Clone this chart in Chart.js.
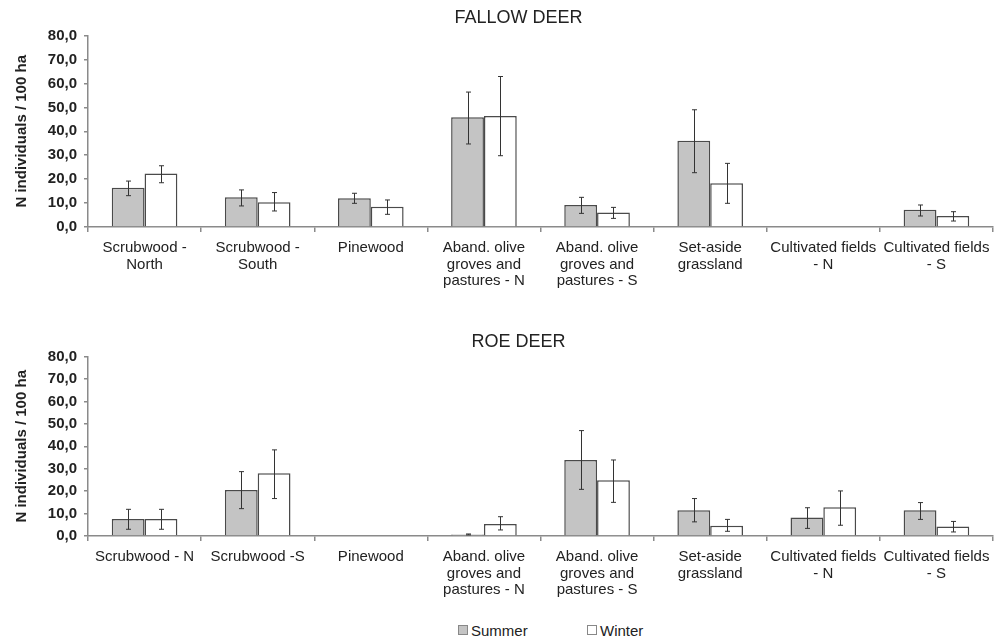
<!DOCTYPE html>
<html>
<head>
<meta charset="utf-8">
<script src="https://cdn.jsdelivr.net/npm/chart.js@4"></script>
<style>
  body { margin: 0; background: #fff; width: 1003px; height: 642px; overflow: hidden; position: relative; }
  canvas { position: absolute; left: 0; }
  #legend { position: absolute; top: 622px; left: 0; width: 1003px; font: 15px "Liberation Sans", Arial, sans-serif; color: #222; }
  #legend span.item { position: absolute; white-space: nowrap; }
  #legend i { display: inline-block; width: 8px; height: 8px; border: 1px solid #888; margin-right: 3px; vertical-align: 1px; }
</style>
</head>
<body>
<canvas id="fallow" width="1003" height="300" style="top:0"></canvas>
<canvas id="roe" width="1003" height="320" style="top:300px"></canvas>
<div id="legend">
  <span class="item" style="left:458px"><i style="background:#c4c4c4"></i>Summer</span>
  <span class="item" style="left:587px"><i style="background:#fff"></i>Winter</span>
</div>
<script>
// categorias
const fallowLabels = [
    ["Scrubwood -", "North"], ["Scrubwood -", "South"], ["Pinewood"],
    ["Aband. olive", "groves and", "pastures - N"], ["Aband. olive", "groves and", "pastures - S"],
    ["Set-aside", "grassland"], ["Cultivated fields", "- N"], ["Cultivated fields", "- S"]
];
const roeLabels = [
    ["Scrubwood - N"], ["Scrubwood -S"], ["Pinewood"],
    ["Aband. olive", "groves and", "pastures - N"], ["Aband. olive", "groves and", "pastures - S"],
    ["Set-aside", "grassland"], ["Cultivated fields", "- N"], ["Cultivated fields", "- S"]
];
const seriesNames = ["Summer", "Winter"];
const yTicks = [0, 10, 20, 30, 40, 50, 60, 70, 80];

// FALLOW DEER
const fallowSummer   = [16.4, 12.4, 12.0, 45.9, 9.2, 36.0, null, 7.2];
const fallowSummerLo = [13.1, 8.8, 9.9, 34.7, 5.7, 22.7, null, 4.6];
const fallowSummerHi = [19.2, 15.5, 14.1, 56.4, 12.4, 49.0, null, 9.2];
const fallowWinter   = [22.4, 10.3, 8.5, 46.4, 6.1, 18.3, null, 4.6];
const fallowWinterLo = [18.5, 6.7, 5.3, 29.8, 3.6, 9.9, null, 2.5];
const fallowWinterHi = [25.6, 14.4, 11.3, 62.9, 8.2, 26.6, null, 6.4];

// ROE DEER
const roeSummer   = [7.6, 20.5, null, 0.7, 33.9, 11.5, 8.2, 11.5];
const roeSummerLo = [3.0, 12.2, null, 0.5, 20.8, 6.3, 3.4, 7.4];
const roeSummerHi = [11.9, 28.7, null, 0.9, 47.0, 16.7, 12.6, 14.9];
const roeWinter   = [7.6, 28.0, null, 5.4, 24.9, 4.6, 12.8, 4.2];
const roeWinterLo = [3.0, 16.7, null, 2.7, 15.0, 2.1, 4.8, 1.8];
const roeWinterHi = [11.9, 38.4, null, 8.6, 33.9, 7.4, 20.1, 6.5];

const FONT = '"Liberation Sans", Arial, sans-serif';
const AXIS = '#8a8a8a';

// barras de erro desenhadas sobre cada barra
const errorBars = {
    id: 'errorBars',
    afterDatasetsDraw(chart) {
        const ctx = chart.ctx;
        const y = chart.scales.y;
        ctx.save();
        ctx.strokeStyle = '#333';
        ctx.lineWidth = 1;
        chart.data.datasets.forEach((ds, i) => {
            const meta = chart.getDatasetMeta(i);
            meta.data.forEach((bar, j) => {
                const lo = ds.errLo[j], hi = ds.errHi[j];
                if (lo == null || hi == null) return;
                const x = Math.round(bar.x) + 0.5;
                const yl = y.getPixelForValue(lo), yh = y.getPixelForValue(hi);
                ctx.beginPath();
                ctx.moveTo(x, yl); ctx.lineTo(x, yh);
                ctx.moveTo(x - 2.5, yl); ctx.lineTo(x + 2.5, yl);
                ctx.moveTo(x - 2.5, yh); ctx.lineTo(x + 2.5, yh);
                ctx.stroke();
            });
        });
        ctx.restore();
    }
};

function makeChart(id, title, labels, summer, sLo, sHi, winter, wLo, wHi, titlePad, xHeight) {
    const ds = (name, data, lo, hi, fill) => ({
        label: name, data, errLo: lo, errHi: hi,
        backgroundColor: fill, borderColor: '#4a4a4a', borderWidth: 1.5,
        categoryPercentage: 0.58, barPercentage: 1.0
    });
    return new Chart(document.getElementById(id), {
        type: 'bar',
        data: {
            labels,
            datasets: [
                ds(seriesNames[0], summer, sLo, sHi, '#c4c4c4'),
                ds(seriesNames[1], winter, wLo, wHi, '#ffffff')
            ]
        },
        options: {
            responsive: false,
            animation: false,
            devicePixelRatio: 1,
            layout: { padding: { left: 44, right: 10, top: 0, bottom: 0 } },
            plugins: {
                legend: { display: false },
                tooltip: { enabled: false },
                title: {
                    display: true, text: title, color: '#222',
                    font: { family: FONT, size: 18, weight: 'normal', lineHeight: 1.2 },
                    padding: titlePad
                }
            },
            scales: {
                x: {
                    offset: true,
                    afterFit: (s) => { s.height = xHeight; },
                    border: { display: true, color: AXIS, width: 1.5 },
                    grid: { offset: true, drawOnChartArea: false, drawTicks: true, tickLength: 5, color: AXIS, lineWidth: 1.5 },
                    ticks: {
                        color: '#222', padding: 8, maxRotation: 0, autoSkip: false,
                        font: { family: FONT, size: 15, lineHeight: 1.1 }
                    }
                },
                y: {
                    min: yTicks[0], max: yTicks[yTicks.length - 1],
                    afterFit: (s) => { s.width = 44; },
                    afterBuildTicks: (s) => { s.ticks = yTicks.map(v => ({ value: v })); },
                    border: { display: true, color: AXIS, width: 1.5 },
                    grid: { drawOnChartArea: false, drawTicks: true, tickLength: 4, color: AXIS, lineWidth: 1.5 },
                    ticks: {
                        color: '#222', padding: 7,
                        font: { family: FONT, size: 15, weight: 'bold' },
                        callback: (v) => Number(v).toFixed(1).replace('.', ',')
                    },
                    title: {
                        display: true, text: 'N individuals / 100 ha', color: '#222',
                        font: { family: FONT, size: 15, weight: 'bold', lineHeight: 1.2 },
                        padding: { top: -31, bottom: 0 }
                    }
                }
            }
        },
        plugins: [errorBars]
    });
}

makeChart('fallow', 'FALLOW DEER', fallowLabels,
    fallowSummer, fallowSummerLo, fallowSummerHi,
    fallowWinter, fallowWinterLo, fallowWinterHi,
    { top: 7, bottom: 7 }, 73);

makeChart('roe', 'ROE DEER', roeLabels,
    roeSummer, roeSummerLo, roeSummerHi,
    roeWinter, roeWinterLo, roeWinterHi,
    { top: 31, bottom: 4 }, 84);
</script>
</body>
</html>
